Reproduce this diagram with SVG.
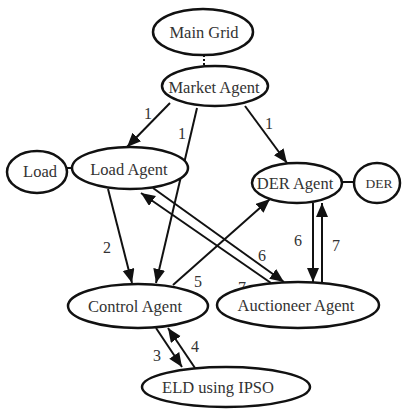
<svg xmlns="http://www.w3.org/2000/svg" width="403" height="409" viewBox="0 0 403 409">
<defs>
<marker id="ah" markerUnits="userSpaceOnUse" markerWidth="15" markerHeight="13" refX="14" refY="6" orient="auto">
<path d="M0,0 L14,6 L0,12 z" fill="#111"/>
</marker>
<style>
.n{fill:#fff;stroke:#111;stroke-width:2.5}
.t{font-family:"Liberation Serif",serif;font-size:16.5px;fill:#333;text-anchor:middle}
.e{stroke:#111;stroke-width:2;fill:none}
.a{marker-end:url(#ah)}
.l{font-family:"Liberation Serif",serif;font-size:16px;fill:#333;text-anchor:middle}
</style>
</defs>
<rect width="403" height="409" fill="#fff"/>
<g id="connectors">
<line class="e" x1="204" y1="55" x2="204" y2="66" stroke-dasharray="2,2"/>
<line class="e" x1="67" y1="168" x2="73" y2="168"/>
<line class="e" x1="342" y1="182" x2="355" y2="182"/>
<line class="e a" x1="170" y1="103" x2="127" y2="147"/>
<line class="e a" x1="197" y1="108" x2="156" y2="283"/>
<line class="e a" x1="245" y1="106" x2="287" y2="163"/>
<line class="e a" x1="108" y1="189" x2="132" y2="283"/>
<line class="e a" x1="173" y1="285" x2="270" y2="199"/>
<line class="e a" x1="153" y1="188" x2="284" y2="282"/>
<line class="e a" x1="271" y1="283" x2="141" y2="193"/>
<line class="e a" x1="313" y1="203" x2="313" y2="282"/>
<line class="e a" x1="322" y1="282" x2="322" y2="203"/>
<line class="e a" x1="156" y1="328" x2="182" y2="367"/>
<line class="e a" x1="195" y1="368" x2="168" y2="328"/>
<text class="l" x="148" y="119">1</text>
<text class="l" x="182" y="139">1</text>
<text class="l" x="269" y="129">1</text>
<text class="l" x="107" y="253">2</text>
<text class="l" x="198" y="287">5</text>
<text class="l" x="262" y="261">6</text>
<text class="l" x="242" y="293">7</text>
<text class="l" x="298" y="246">6</text>
<text class="l" x="336" y="251">7</text>
<text class="l" x="157" y="361">3</text>
<text class="l" x="195" y="352">4</text>
</g>
<g id="main-grid"><ellipse class="n" cx="203" cy="32" rx="50" ry="23"/><text class="t" x="204" y="38">Main Grid</text></g>
<g id="market-agent"><ellipse class="n" cx="215" cy="86" rx="53" ry="20"/><text class="t" x="214" y="93">Market Agent</text></g>
<g id="load"><ellipse class="n" cx="37" cy="172" rx="30" ry="21"/><text class="t" x="40" y="177">Load</text></g>
<g id="load-agent"><ellipse class="n" cx="130" cy="168" rx="58" ry="21"/><text class="t" x="129" y="175">Load Agent</text></g>
<g id="der-agent"><ellipse class="n" cx="297" cy="183" rx="45" ry="20"/><text class="t" x="295" y="189">DER Agent</text></g>
<g id="der"><ellipse class="n" cx="377" cy="183" rx="23" ry="20"/><text class="t" x="379" y="188" style="font-size:13.5px">DER</text></g>
<g id="control-agent"><ellipse class="n" cx="138" cy="306" rx="70" ry="22"/><text class="t" x="135" y="312">Control Agent</text></g>
<g id="auctioneer-agent"><ellipse class="n" cx="298" cy="305" rx="81" ry="23"/><text class="t" x="296" y="311">Auctioneer Agent</text></g>
<g id="eld"><ellipse class="n" cx="226" cy="387" rx="84" ry="20"/><text class="t" x="218" y="393">ELD using IPSO</text></g>
</svg>
